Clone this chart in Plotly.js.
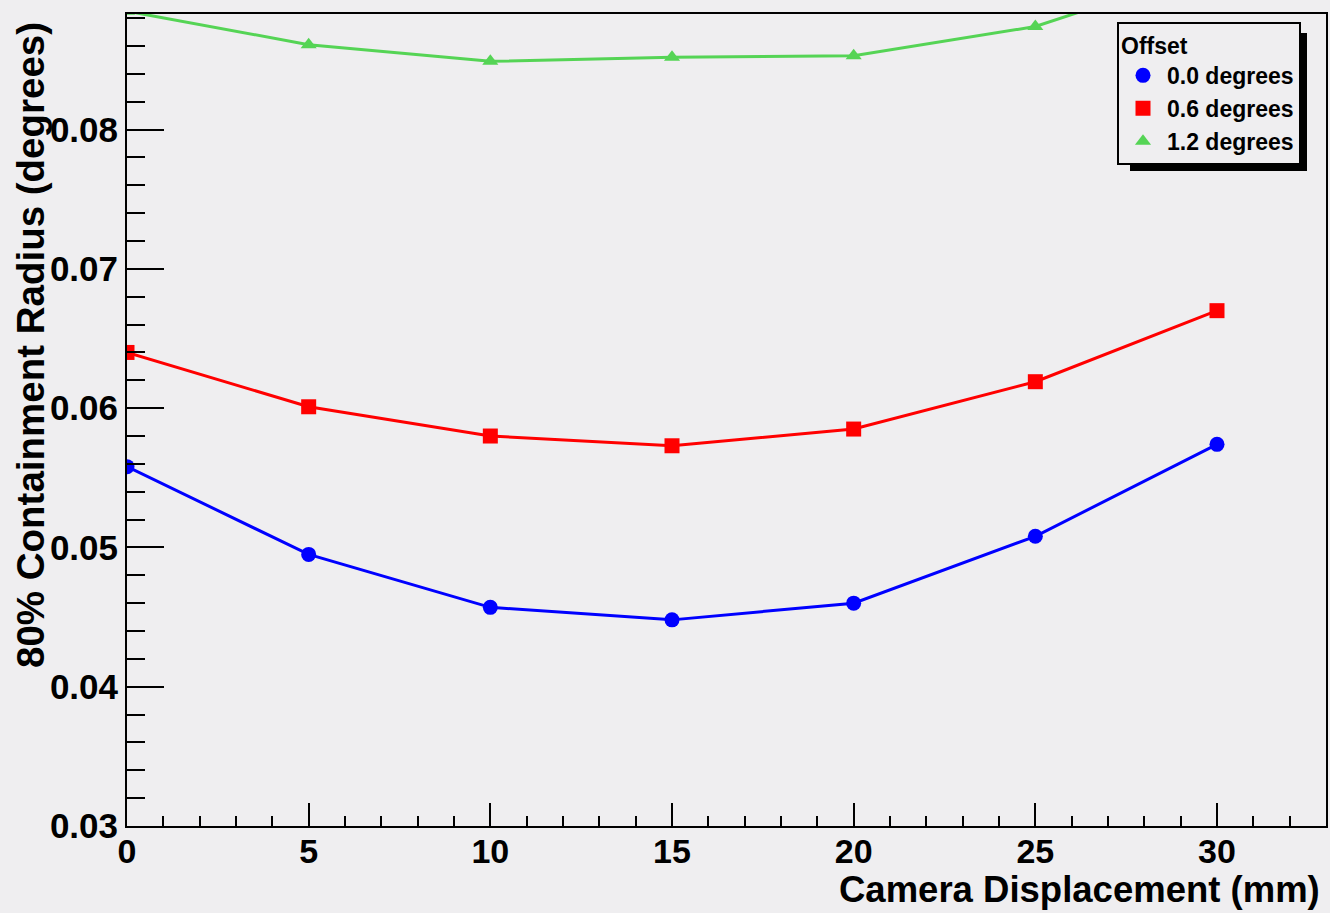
<!DOCTYPE html>
<html>
<head>
<meta charset="utf-8">
<script src="https://cdn.plot.ly/plotly-3.0.1.min.js"></script>
<style>html,body{margin:0;padding:0;background:#efeef0;}#chart{width:1330px;height:913px;}</style>
</head>
<body>
<div id="chart"></div>
<script>
const displacement = [0, 5, 10, 15, 20, 25, 30];
const offset00 = [0.0558, 0.0495, 0.0457, 0.0448, 0.0460, 0.0508, 0.0574];
const offset06 = [0.0640, 0.0601, 0.0580, 0.0573, 0.0585, 0.0619, 0.0670];
const offset12 = [0.0885, 0.0861, 0.0849, 0.0852, 0.0853, 0.0874, 0.0917];
const seriesNames = ["0.0 degrees", "0.6 degrees", "1.2 degrees"];

const FONT = {family: "Liberation Sans, Arial, sans-serif", color: "#000", weight: "bold"};
const BG = "#efeef0";

const series = [
  {y: offset00, name: seriesNames[0], color: "#0000ff", symbol: "circle", size: 15},
  {y: offset06, name: seriesNames[1], color: "#ff0000", symbol: "square", size: 15},
  {y: offset12, name: seriesNames[2], color: "#55d455", symbol: "triangle-up", size: 14}
];

const traces = [];
series.forEach(s => {
  traces.push({x: displacement, y: s.y, name: s.name, mode: "lines", showlegend: false,
    line: {color: s.color, width: 3}});
});
series.forEach(s => {
  traces.push({x: displacement, y: s.y, name: s.name, mode: "markers", showlegend: true,
    marker: {symbol: s.symbol, size: s.size, color: s.color}});
});

const W = 1330, H = 913, ML = 127, MR = 4, MT = 14, MB = 87;
const PW = W - ML - MR, PH = H - MT - MB;
const px2x = px => (px - ML) / PW;
const py2y = py => (H - MB - py) / PH;

const layout = {
  width: W, height: H,
  paper_bgcolor: BG, plot_bgcolor: BG,
  margin: {l: ML, r: MR, t: MT, b: MB, pad: 0},
  showlegend: true,
  font: Object.assign({}, FONT, {size: 34}),
  xaxis: {
    range: [0, 33], tickvals: [0, 5, 10, 15, 20, 25, 30], ticks: "inside", ticklen: 23, tickwidth: 2,
    tickcolor: "#000", showgrid: false, zeroline: false, showline: true, linecolor: "#000", linewidth: 2,
    mirror: true, tickfont: Object.assign({}, FONT, {size: 34}), ticklabelstandoff: -6,
    minor: {dtick: 1, ticks: "inside", ticklen: 10, tickwidth: 2, tickcolor: "#000", showgrid: false}
  },
  yaxis: {
    range: [0.03, 0.0883], tickvals: [0.03, 0.04, 0.05, 0.06, 0.07, 0.08], tickformat: ".2f",
    ticks: "inside", ticklen: 37, tickwidth: 2, tickcolor: "#000", showgrid: false, zeroline: false,
    showline: true, linecolor: "#000", linewidth: 2, mirror: true,
    tickfont: Object.assign({}, FONT, {size: 35}),
    minor: {dtick: 0.002, ticks: "inside", ticklen: 18, tickwidth: 2, tickcolor: "#000", showgrid: false}
  },
  legend: {
    x: px2x(1117), y: py2y(22), xanchor: "left", yanchor: "top",
    bgcolor: BG, bordercolor: "#000", borderwidth: 2,
    font: Object.assign({}, FONT, {size: 23}),
    title: {text: "Offset", font: Object.assign({}, FONT, {size: 23})},
    tracegroupgap: 0, itemwidth: 38
  },
  shapes: [],
  annotations: [
    {text: "Camera Displacement (mm)", xref: "paper", yref: "paper",
     x: px2x(1322), y: py2y(890), xanchor: "right", yanchor: "middle",
     showarrow: false, font: Object.assign({}, FONT, {size: 36.5})},
    {text: "80% Containment Radius (degrees)", xref: "paper", yref: "paper", textangle: -90,
     x: px2x(30), y: py2y(20), xanchor: "center", yanchor: "top",
     showarrow: false, font: Object.assign({}, FONT, {size: 38.5})}
  ]
};

const gd = document.getElementById("chart");
Plotly.newPlot(gd, traces, layout, {displayModeBar: false, staticPlot: true}).then(() => {
  const bg = gd.querySelector(".legend .bg");
  if (!bg) return;
  const r = bg.getBoundingClientRect();
  const g = gd.getBoundingClientRect();
  const left = r.left - g.left, right = r.right - g.left, top = r.top - g.top, bottom = r.bottom - g.top;
  return Plotly.relayout(gd, {shapes: [
    {type: "rect", xref: "paper", yref: "paper",
     x0: px2x(left + 12), x1: px2x(right + 7), y0: py2y(bottom + 7), y1: py2y(top + 10),
     fillcolor: "#000", line: {width: 0}, layer: "above"}
  ]});
});
</script>
</body>
</html>
